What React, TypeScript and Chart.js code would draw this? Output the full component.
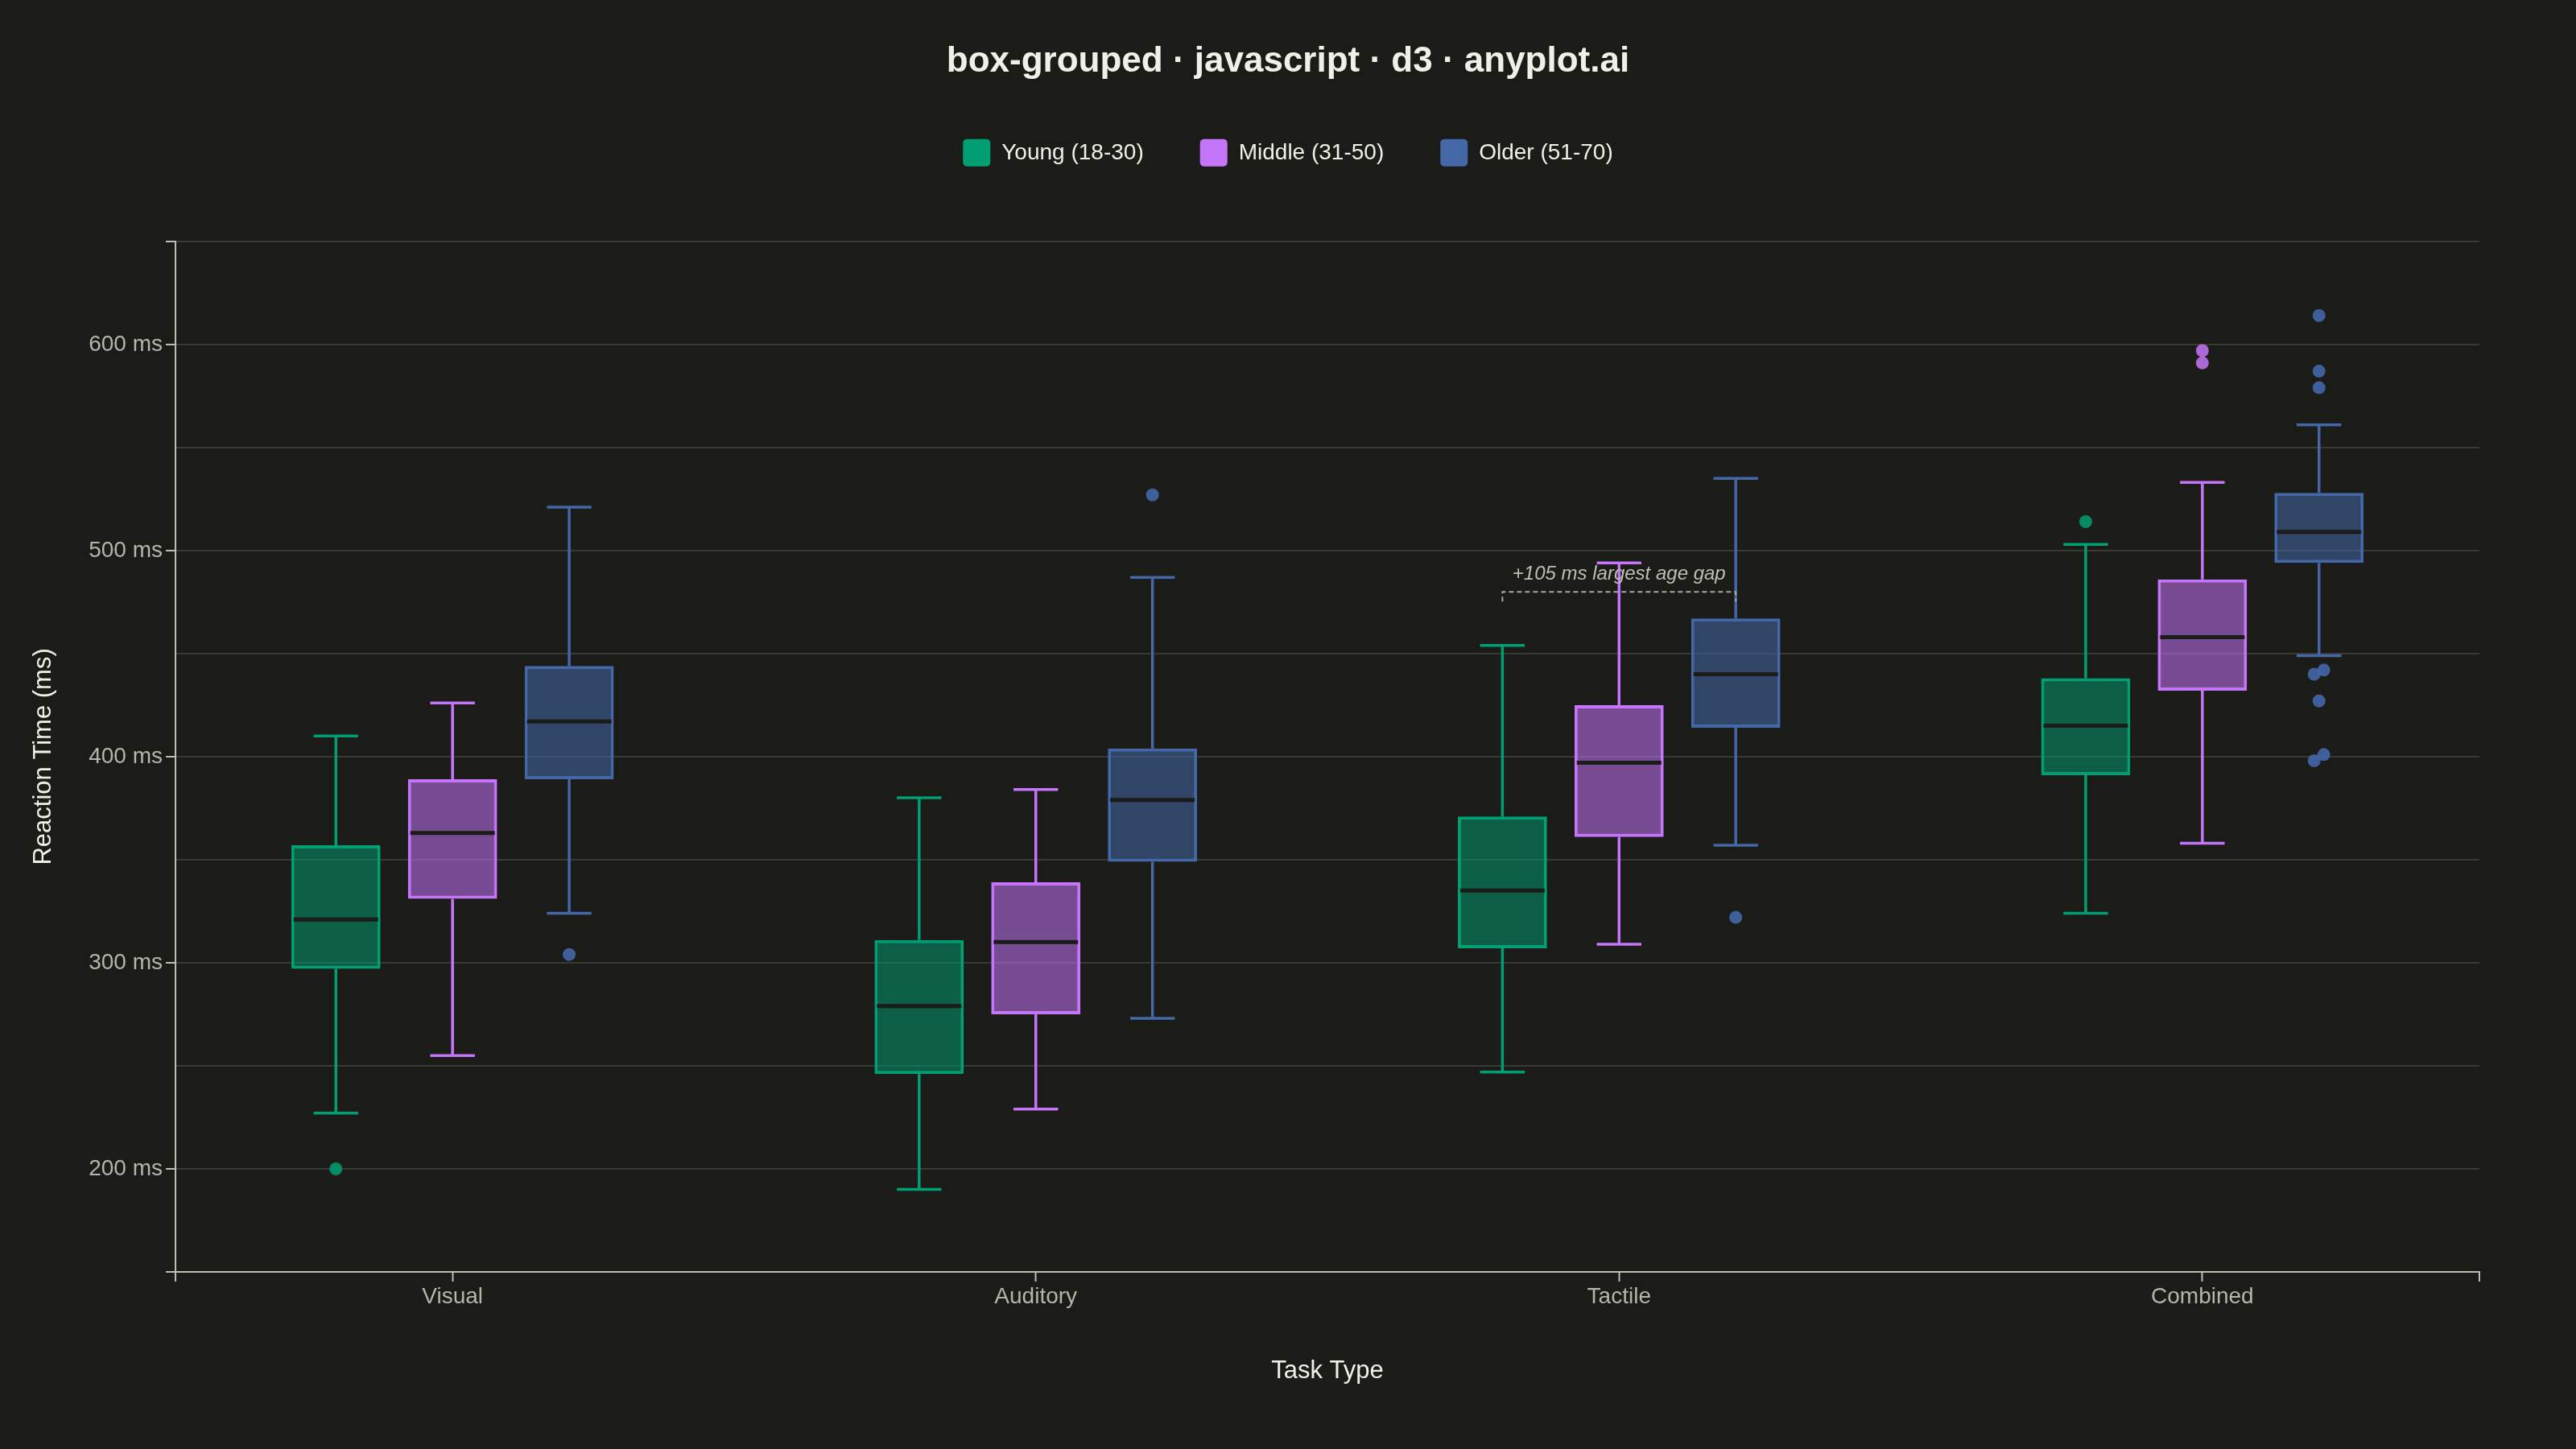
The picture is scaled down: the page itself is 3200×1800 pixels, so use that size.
import React, { useEffect, useRef } from 'react';
import { Chart, registerables } from 'chart.js';

Chart.register(...registerables);

const categories = ['Visual', 'Auditory', 'Tactile', 'Combined'];
const groups = ['Young (18-30)', 'Middle (31-50)', 'Older (51-70)'];
const colors = ['#009E73', '#C475F9', '#4467A8'];
const fills = ['rgba(0, 158, 115, 0.52)', 'rgba(196, 117, 249, 0.55)', 'rgba(68, 103, 168, 0.55)'];
const dots = ['rgba(0, 158, 115, 0.85)', 'rgba(196, 117, 249, 0.85)', 'rgba(68, 103, 168, 0.9)'];

// [lower whisker, q1, median, q3, upper whisker] for each task type
const youngStats = [
  [227, 297, 321, 357, 410],
  [190, 246, 279, 311, 380],
  [247, 307, 335, 371, 454],
  [324, 391, 415, 438, 503],
];
const middleStats = [
  [255, 331, 363, 389, 426],
  [229, 275, 310, 339, 384],
  [309, 361, 397, 425, 494],
  [358, 432, 458, 486, 533],
];
const olderStats = [
  [324, 389, 417, 444, 521],
  [273, 349, 379, 404, 487],
  [357, 414, 440, 467, 535],
  [449, 494, 509, 528, 561],
];

const youngOutliers = [[200], [], [], [514]];
const middleOutliers = [[], [], [], [597, 591]];
const olderOutliers = [[304], [527], [322], [614, 587, 579, 442, 440, 427, 401, 398]];

const yLabelTicks = [200, 300, 400, 500, 600];

const allStats = [youngStats, middleStats, olderStats];
const allOutliers = [youngOutliers, middleOutliers, olderOutliers];

const BG = '#1b1b17';
const AXIS = '#bdbdb5';
const GRID = '#383834';
const TEXT = '#f0efe8';
const MUTED = '#b5b5ad';

const legendSpace = {
  id: 'legendSpace',
  beforeInit(chart) {
    const fit = chart.legend.fit;
    chart.legend.fit = function () {
      fit.bind(chart.legend)();
      this.height += 83;
    };
  },
};

const boxPlot = {
  id: 'boxPlot',
  beforeDraw(chart) {
    const { ctx, width, height } = chart;
    ctx.save();
    ctx.fillStyle = BG;
    ctx.fillRect(0, 0, width, height);
    ctx.restore();
  },
  afterDatasetsDraw(chart) {
    const { ctx, scales } = chart;
    const y = scales.y;
    const x = scales.x;
    ctx.save();
    allStats.forEach((stats, d) => {
      const meta = chart.getDatasetMeta(d);
      meta.data.forEach((bar, i) => {
        const { x: cx, width: w } = bar.getProps(['x', 'width'], true);
        const [lo, q1, med, q3, hi] = stats[i];
        const yLo = y.getPixelForValue(lo);
        const yHi = y.getPixelForValue(hi);
        ctx.strokeStyle = colors[d];
        ctx.lineWidth = 3.5;
        ctx.beginPath();
        ctx.moveTo(cx, y.getPixelForValue(q3));
        ctx.lineTo(cx, yHi);
        ctx.moveTo(cx, y.getPixelForValue(q1));
        ctx.lineTo(cx, yLo);
        ctx.moveTo(cx - w / 4, yHi);
        ctx.lineTo(cx + w / 4, yHi);
        ctx.moveTo(cx - w / 4, yLo);
        ctx.lineTo(cx + w / 4, yLo);
        ctx.stroke();

        ctx.strokeStyle = BG;
        ctx.lineWidth = 5;
        ctx.beginPath();
        const yMed = y.getPixelForValue(med);
        ctx.moveTo(cx - w / 2 + 3, yMed);
        ctx.lineTo(cx + w / 2 - 3, yMed);
        ctx.stroke();

        const outs = allOutliers[d][i];
        ctx.fillStyle = dots[d];
        outs.forEach((v) => {
          const near = outs.find((o) => o !== v && Math.abs(o - v) < 4);
          const dx = near === undefined ? 0 : v > near ? 6 : -6;
          ctx.beginPath();
          ctx.arc(cx + dx, y.getPixelForValue(v), 8, 0, Math.PI * 2);
          ctx.fill();
        });
      });
    });

    // largest young vs older median gap
    let best = 0;
    let bestGap = -Infinity;
    categories.forEach((_, i) => {
      const gap = olderStats[i][2] - youngStats[i][2];
      if (gap > bestGap) {
        bestGap = gap;
        best = i;
      }
    });
    const xa = chart.getDatasetMeta(0).data[best].x;
    const xb = chart.getDatasetMeta(2).data[best].x;
    const yb = y.getPixelForValue(Math.max(olderStats[best][3], youngStats[best][3])) - 33;
    ctx.strokeStyle = '#a8a8a0';
    ctx.lineWidth = 2;
    ctx.setLineDash([6, 4]);
    ctx.beginPath();
    ctx.moveTo(xa, yb + 12);
    ctx.lineTo(xa, yb);
    ctx.lineTo(xb, yb);
    ctx.lineTo(xb, yb + 12);
    ctx.stroke();
    ctx.setLineDash([]);
    ctx.fillStyle = '#bebeb4';
    ctx.font = 'italic 24px "Liberation Sans", Arial, sans-serif';
    ctx.textAlign = 'center';
    ctx.textBaseline = 'middle';
    ctx.fillText(`+${bestGap} ms largest age gap`, (xa + xb) / 2, yb - 22);

    // outer ticks at the ends of the x axis
    ctx.strokeStyle = AXIS;
    ctx.lineWidth = 2;
    ctx.beginPath();
    ctx.moveTo(x.left, y.bottom);
    ctx.lineTo(x.left, y.bottom + 12);
    ctx.moveTo(x.right, y.bottom);
    ctx.lineTo(x.right, y.bottom + 12);
    ctx.stroke();
    ctx.restore();
  },
};

const App = () => {
  const chartRef = useRef(null);

  useEffect(() => {
    if (!chartRef.current) return;
    Chart.defaults.font.family = '"Liberation Sans", Arial, sans-serif';

    const datasets = groups.map((g, d) => ({
      label: g,
      data: allStats[d].map((s, i) => ({ x: i, y: [s[1], s[3]] })),
      backgroundColor: fills[d],
      borderColor: colors[d],
      borderWidth: 4,
      borderSkipped: false,
      categoryPercentage: 0.6,
      barPercentage: 0.765,
    }));

    const chart = new Chart(chartRef.current, {
      type: 'bar',
      data: { datasets },
      plugins: [legendSpace, boxPlot],
      options: {
        animation: false,
        responsive: true,
        maintainAspectRatio: false,
        layout: { padding: { left: 0, right: 0, top: 0, bottom: 20 } },
        plugins: {
          tooltip: { enabled: false },
          title: {
            display: true,
            text: 'box-grouped · javascript · d3 · anyplot.ai',
            color: TEXT,
            font: { size: 44, weight: 'bold' },
            padding: { top: 50, bottom: 0 },
          },
          legend: {
            display: true,
            position: 'top',
            labels: {
              color: TEXT,
              font: { size: 28 },
              boxWidth: 34,
              boxHeight: 34,
              padding: 70,
              useBorderRadius: true,
              borderRadius: 5,
              generateLabels: () =>
                groups.map((g, d) => ({
                  text: g,
                  fillStyle: colors[d],
                  strokeStyle: colors[d],
                  lineWidth: 0,
                  fontColor: TEXT,
                  borderRadius: 5,
                  datasetIndex: d,
                  hidden: false,
                })),
            },
          },
        },
        scales: {
          x: {
            type: 'linear',
            min: -0.475,
            max: 3.475,
            offset: false,
            afterFit: (s) => {
              s.height = 200;
            },
            ticks: {
              stepSize: 1,
              includeBounds: false,
              color: MUTED,
              font: { size: 28 },
              padding: 2,
              maxRotation: 0,
              callback: (v) => categories[v] ?? '',
            },
            grid: {
              display: true,
              offset: false,
              drawOnChartArea: false,
              drawTicks: true,
              tickLength: 12,
              tickWidth: 2,
              tickColor: AXIS,
            },
            border: { display: true, color: AXIS, width: 2 },
            title: {
              display: true,
              text: 'Task Type',
              color: TEXT,
              font: { size: 31 },
              padding: { top: 0, bottom: 58 },
            },
          },
          y: {
            min: 150,
            max: 650,
            afterFit: (s) => {
              s.width = 218;
            },
            ticks: {
              stepSize: 50,
              color: MUTED,
              font: { size: 28 },
              padding: 4,
              callback: (v) => (yLabelTicks.includes(v) ? `${v} ms` : ''),
            },
            grid: {
              color: GRID,
              lineWidth: 2,
              tickLength: 12,
              tickWidth: 2,
              tickColor: (c) =>
                yLabelTicks.includes(c.tick.value) || c.tick.value === 150 || c.tick.value === 650
                  ? AXIS
                  : 'rgba(0,0,0,0)',
            },
            border: { display: true, color: AXIS, width: 2 },
            title: {
              display: true,
              text: 'Reaction Time (ms)',
              color: TEXT,
              font: { size: 31 },
              padding: { top: 36, bottom: 0 },
            },
          },
          // empty right margin so title and legend stay centred on the page
          margin: {
            type: 'linear',
            position: 'right',
            min: 0,
            max: 1,
            afterFit: (s) => {
              s.width = 120;
            },
            ticks: { display: false },
            grid: { display: false, drawTicks: false },
            border: { display: false },
          },
        },
      },
    });

    return () => {
      chart.destroy();
    };
  }, []);

  return (
    <div style={{ position: 'fixed', left: 0, top: 0, width: '100vw', height: '100vh', background: BG }}>
      <canvas ref={chartRef} />
    </div>
  );
};

export default App;
